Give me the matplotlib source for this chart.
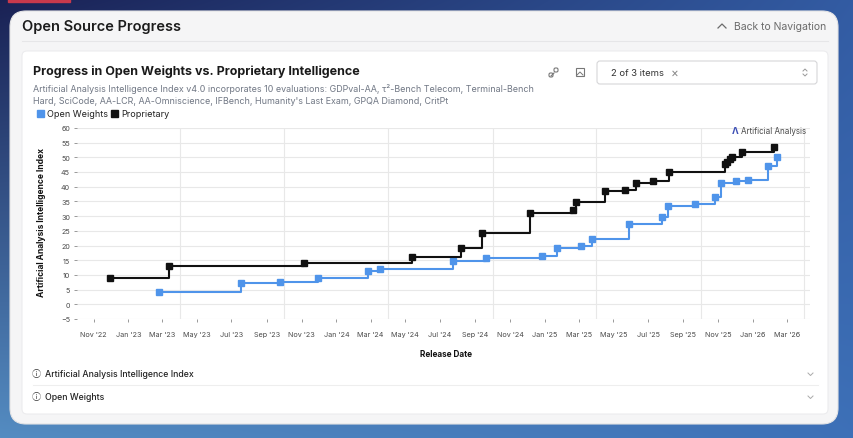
import matplotlib as mpl
import matplotlib.pyplot as plt
import matplotlib.dates as mdates
from matplotlib.patches import FancyBboxPatch, Rectangle
import numpy as np
import pandas as pd

# Values: release date and intelligence index
prop_dates = ['2022-11-30', '2023-03-14', '2023-11-06', '2024-05-13', '2024-08-06',
              '2024-09-12', '2024-12-06', '2025-02-19', '2025-02-25', '2025-04-16',
              '2025-05-22', '2025-06-10', '2025-07-10', '2025-08-07', '2025-11-13',
              '2025-11-16', '2025-11-22', '2025-11-25', '2025-12-12', '2026-02-06']
prop_values = [9.0, 13.0, 14.0, 16.2, 19.0, 24.1, 31.1, 32.2, 34.9, 38.6,
               38.9, 41.1, 41.8, 44.9, 47.7, 48.5, 49.4, 50.2, 51.7, 53.4]

open_dates = ['2023-02-24', '2023-07-18', '2023-09-25', '2023-11-30', '2024-02-26',
              '2024-03-18', '2024-07-24', '2024-09-19', '2024-12-26', '2025-01-22',
              '2025-03-05', '2025-03-25', '2025-05-28', '2025-07-26', '2025-08-04',
              '2025-09-22', '2025-10-26', '2025-11-06', '2025-12-02', '2025-12-23',
              '2026-01-28', '2026-02-12']
open_values = [4.2, 7.2, 7.6, 9.0, 11.4, 12.0, 14.6, 15.7, 16.5, 19.0,
               19.9, 22.2, 27.3, 29.8, 33.5, 34.1, 36.4, 41.2, 41.9, 42.4,
               47.1, 50.0]

title = 'Progress in Open Weights vs. Proprietary Intelligence'
subtitle = ["Artificial Analysis Intelligence Index v4.0 incorporates 10 evaluations: GDPval-AA, \u03c4\u00b2-Bench Telecom, Terminal-Bench",
            "Hard, SciCode, AA-LCR, AA-Omniscience, IFBench, Humanity's Last Exam, GPQA Diamond, CritPt"]

W, H = 854, 439
BLUE = '#4f94ea'
BLACK = '#111111'
UI = ['Inter', 'DejaVu Sans']
SYM = ['Noto Sans CJK SC', 'DejaVu Sans']

plt.rcParams['font.family'] = UI
fig = plt.figure(figsize=(W / 100, H / 100), dpi=100)

# Page background, card and panel, drawn in pixel coordinates
bg = fig.add_axes([0, 0, 1, 1])
bg.set_xlim(0, W)
bg.set_ylim(H, 0)
bg.axis('off')

yy, xx = np.mgrid[0:1:H * 1j, 0:1:W * 1j]
tl = np.array([0.10, 0.13, 0.33])
tr = np.array([0.20, 0.36, 0.64])
bl = np.array([0.33, 0.55, 0.76])
br = np.array([0.24, 0.44, 0.72])
grad = ((1 - yy)[..., None] * ((1 - xx)[..., None] * tl + xx[..., None] * tr)
        + yy[..., None] * ((1 - xx)[..., None] * bl + xx[..., None] * br))
bg.imshow(grad, extent=(0, W, H, 0), aspect='auto', zorder=0)
bg.add_patch(Rectangle((8, 0), 62, 3, color='#c8394c', zorder=1))

bg.add_patch(FancyBboxPatch((10, 12), 828, 413, boxstyle='round,pad=0,rounding_size=16',
                            fc='#f5f5f6', ec='#e2e2e4', lw=0.8, zorder=1))
bg.add_patch(FancyBboxPatch((22, 52), 806, 363, boxstyle='round,pad=0,rounding_size=5',
                            fc='white', ec='#ececee', lw=0.8, zorder=2))
bg.plot([22, 828], [42, 42], color='#e6e6e8', lw=0.8, zorder=2)

# Header
bg.text(22, 27, 'Open Source Progress', fontsize=10.5, fontweight=600, color='#1c1c1c',
        va='center', zorder=3)
bg.text(826, 27, 'Back to Navigation', fontsize=7.5, color='#6b6b6b', ha='right',
        va='center', zorder=3)
bg.plot([718, 722, 726], [29, 25, 29], color='#6b6b6b', lw=0.9, zorder=3)

# Chart title, subtitle, legend
bg.text(33, 72, title, fontsize=9.0, fontweight='bold', color='#1a1a1a', va='center', zorder=3)
bg.text(33, 89, subtitle[0], fontsize=6.45, color='#707784', va='center', zorder=3)
bg.text(33, 102, subtitle[1], fontsize=6.45, color='#707784', va='center', zorder=3)
bg.add_patch(Rectangle((37, 111), 7, 7, color=BLUE, zorder=3))
bg.text(47, 115, 'Open Weights', fontsize=6.5, color='#222222', va='center', zorder=3)
bg.add_patch(Rectangle((111, 111), 7, 7, color=BLACK, zorder=3))
bg.text(121, 115, 'Proprietary', fontsize=6.5, color='#222222', va='center', zorder=3)

# Toolbar icons and item selector
bg.plot([551, 554], [77, 74], color='#777777', lw=0.8, zorder=3)
bg.add_patch(FancyBboxPatch((549, 74), 4, 4, boxstyle='round,pad=0,rounding_size=1.5',
                            fc='none', ec='#777777', lw=0.8, zorder=3))
bg.add_patch(FancyBboxPatch((554, 69), 4, 4, boxstyle='round,pad=0,rounding_size=1.5',
                            fc='none', ec='#777777', lw=0.8, zorder=3))
bg.add_patch(Rectangle((576, 69), 8, 8, fc='none', ec='#777777', lw=0.8, zorder=3))
bg.plot([577, 580, 583], [76, 73, 76], color='#777777', lw=0.7, zorder=3)
bg.add_patch(FancyBboxPatch((597, 62), 220, 23, boxstyle='round,pad=0,rounding_size=3',
                            fc='white', ec='#d6d6d8', lw=0.8, zorder=3))
bg.text(611, 73.5, '2 of 3 items', fontsize=6.8, color='#333333', va='center', zorder=4)
bg.text(671, 73.5, '\u00d7', fontsize=8.5, color='#888888', va='center', zorder=4)
bg.plot([803, 805, 807], [72, 70, 72], color='#999999', lw=0.7, zorder=4)
bg.plot([803, 805, 807], [75, 77, 75], color='#999999', lw=0.7, zorder=4)

# Axis titles and collapsible rows
bg.text(42, 223, 'Artificial Analysis Intelligence Index', fontsize=6.1, fontweight='bold',
        color='#111111', rotation=90, ha='center', va='center', zorder=3)
bg.text(446, 355, 'Release Date', fontsize=5.9, fontweight='bold', color='#111111',
        ha='center', va='center', zorder=3)
for y, label in [(375, 'Artificial Analysis Intelligence Index'), (398, 'Open Weights')]:
    bg.text(32, y, '\u24d8', family=SYM, fontsize=6.5, color='#333333', va='center', zorder=3)
    bg.text(45, y, label, fontsize=6.3, fontweight=500, color='#222222', va='center', zorder=3)
    bg.plot([808, 810.5, 813], [y - 1, y + 1.5, y - 1], color='#aaaaaa', lw=0.7, zorder=3)
bg.plot([33, 818], [386, 386], color='#eeeeee', lw=0.8, zorder=3)

# Chart
ax = fig.add_axes([77 / W, 1 - 320 / H, (810 - 77) / W, (320 - 128.9) / H])
ax.set_facecolor('none')
od = pd.to_datetime(open_dates)
pdts = pd.to_datetime(prop_dates)
ax.plot(od, open_values, drawstyle='steps-post', color=BLUE, lw=1.5,
        marker='s', ms=3.8, mec=BLUE, zorder=3)
ax.plot(pdts, prop_values, drawstyle='steps-post', color=BLACK, lw=1.5,
        marker='s', ms=3.8, mec=BLACK, zorder=4)

ax.set_xlim(pd.Timestamp('2022-10-03'), pd.Timestamp('2026-04-11'))
ax.set_ylim(-5, 60)
ax.set_yticks(range(-5, 61, 5))
ax.xaxis.set_major_locator(mdates.MonthLocator(bymonth=[1, 3, 5, 7, 9, 11]))
ax.xaxis.set_major_formatter(mdates.DateFormatter("%b '%y"))
ax.xaxis.set_minor_locator(mdates.MonthLocator(bymonth=[1, 4, 7, 10]))
ax.grid(True, axis='y', which='major', color='#e8e8e8', lw=0.8)
ax.grid(True, axis='x', which='minor', color='#e8e8e8', lw=0.8)
ax.set_axisbelow(True)
for s in ax.spines.values():
    s.set_visible(False)
ax.tick_params(axis='x', which='major', length=2.5, width=0.7, color='#999999',
               labelsize=5.2, labelcolor='#4a4a4a', pad=6)
ax.tick_params(axis='x', which='minor', length=0)
ax.tick_params(axis='y', length=2.5, width=0.7, color='#999999', labelsize=5.2,
               labelcolor='#4a4a4a', pad=2.5)

ax.text(0.995, 0.985, 'Artificial Analysis', transform=ax.transAxes, ha='right', va='center',
        fontsize=5.8, color='#4a4a4a')
ax.text(0.898, 0.985, '\u039b', transform=ax.transAxes, ha='center', va='center',
        fontsize=6.5, fontweight='bold', color='#3d4fb5')

fig.savefig('out.png', dpi=100)
